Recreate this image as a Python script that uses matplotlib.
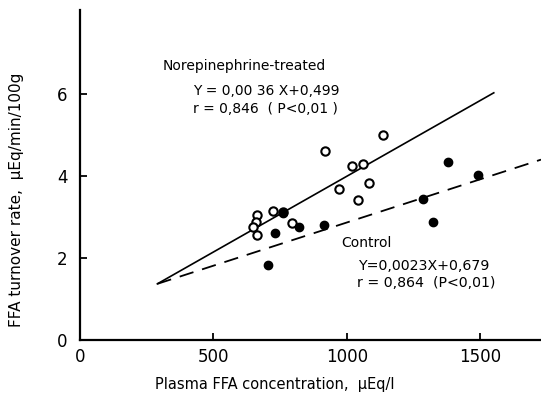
import numpy as np
import matplotlib
matplotlib.use("Agg")
import matplotlib.pyplot as plt

# norepinephrine-treated (open circles)
ne_x = [663, 659, 650, 663, 722, 760, 796, 918, 971, 1021, 1060, 1042, 1085, 1136]
ne_y = [3.06, 2.89, 2.75, 2.55, 3.15, 3.12, 2.85, 4.60, 3.68, 4.24, 4.30, 3.41, 3.84, 5.00]

# control (filled circles)
ctl_x = [705, 731, 760, 820, 914, 1284, 1324, 1381, 1490]
ctl_y = [1.82, 2.60, 3.10, 2.75, 2.80, 3.43, 2.88, 4.34, 4.03]

# regression lines as drawn
ne_fit_x = [290, 1551]
ne_fit_y = [1.37, 6.03]
ctl_fit_x = [290, 1728]
ctl_fit_y = [1.37, 4.40]

xticks = [0, 500, 1000, 1500]
yticks = [0, 2, 4, 6]

fig = plt.figure(figsize=(5.41, 4.01), dpi=100)
ax = fig.add_axes([80 / 541, 1 - 340 / 401, (541 - 80) / 541, (340 - 10) / 401])

ax.plot(ne_fit_x, ne_fit_y, color='black', lw=1.2)
ax.plot(ctl_fit_x, ctl_fit_y, color='black', lw=1.3, dashes=(8, 5))
ax.plot(ne_x, ne_y, 'o', mfc='white', mec='black', mew=1.5, ms=6, zorder=3)
ax.plot(ctl_x, ctl_y, 'o', color='black', ms=6, zorder=4)

ax.set_xlim(0, 1728)
ax.set_ylim(0, 8.05)
ax.set_xticks(xticks)
ax.set_yticks(yticks)
ax.tick_params(direction='in', length=5, width=1.3, labelsize=12)
ax.tick_params(axis='x', pad=6)
ax.tick_params(axis='y', pad=9)
for s in ['top', 'right']:
    ax.spines[s].set_visible(False)
for s in ['left', 'bottom']:
    ax.spines[s].set_linewidth(1.6)

ax.text(311, 6.68, 'Norepinephrine-treated', fontsize=10, va='center')
ax.text(424, 6.07, 'Y = 0,00 36 X+0,499', fontsize=10, va='center')
ax.text(424, 5.63, 'r = 0,846  ( P<0,01 )', fontsize=10, va='center')
ax.text(978, 2.37, 'Control', fontsize=10, va='center')
ax.text(1042, 1.80, 'Y=0,0023X+0,679', fontsize=10.2, va='center')
ax.text(1038, 1.39, 'r = 0,864  (P<0,01)', fontsize=10.2, va='center')

fig.text(17 / 541, 1 - 200 / 401, 'FFA turnover rate,  μEq/min/100g',
         rotation=90, ha='center', va='center', fontsize=11)
fig.text(275 / 541, 1 - 385 / 401, 'Plasma FFA concentration,  μEq/l',
         ha='center', va='center', fontsize=10.5)

fig.savefig('out.png', dpi=100)
